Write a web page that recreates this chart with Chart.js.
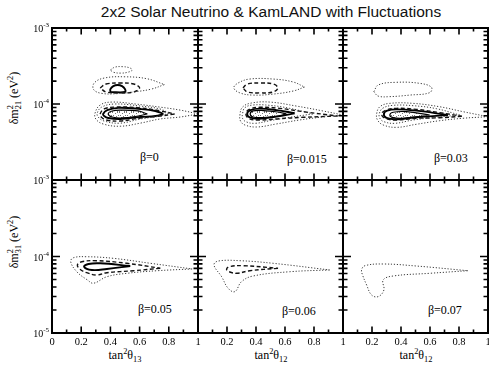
<!DOCTYPE html>
<html>
<head>
<meta charset="utf-8">
<script src="https://cdn.jsdelivr.net/npm/chart.js@4.4.0/dist/chart.umd.min.js"></script>
<style>
  body { margin: 0; background: #fff; }
  #wrap { position: relative; width: 489px; height: 373px; overflow: hidden; background: #fff; }
  #wrap canvas { position: absolute; left: 0; top: 0; }
  .txt { position: absolute; font-family: "Liberation Serif", "DejaVu Serif", serif; color: #000; white-space: nowrap; }
  .title { position: absolute; left: 0; width: 542px; top: 3px; text-align: center;
           font-family: "Liberation Sans", Arial, sans-serif; font-size: 15.5px; color: #111; }
  .beta { font-size: 12px; line-height: 12px; }
  .xt { font-size: 12px; transform: translateX(-50%); top: 347px; }
  .yt { font-size: 12px; transform: translate(-50%, -50%) rotate(-90deg); }
  .stk { display: inline-block; vertical-align: middle; font-size: 0.7em; line-height: 0.95; text-align: left; }
  sup, sub { font-size: 0.7em; }
</style>
</head>
<body>
<div id="wrap">
  <div class="title">2x2 Solar Neutrino &amp; KamLAND with Fluctuations</div>
  <div class="txt yt" style="left:15px; top:98px">&delta;m<span class="stk">2<br>21</span> (eV<sup>2</sup>)</div>
  <div class="txt yt" style="left:15px; top:242px">&delta;m<span class="stk">2<br>31</span> (eV<sup>2</sup>)</div>
  <div class="txt xt" style="left:125px">tan<sup>2</sup>&theta;<sub>13</sub></div>
  <div class="txt xt" style="left:271px">tan<sup>2</sup>&theta;<sub>12</sub></div>
  <div class="txt xt" style="left:416px">tan<sup>2</sup>&theta;<sub>12</sub></div>
  <div class="txt beta" style="left:140px; top:151px">&beta;=0</div>
  <div class="txt beta" style="left:287px; top:153px">&beta;=0.015</div>
  <div class="txt beta" style="left:434px; top:152px">&beta;=0.03</div>
  <div class="txt beta" style="left:138px; top:303px">&beta;=0.05</div>
  <div class="txt beta" style="left:282px; top:305px">&beta;=0.06</div>
  <div class="txt beta" style="left:428px; top:304px">&beta;=0.07</div>
</div>
<script>
// contour lines, [tan^2 theta, delta m^2 in eV^2]
// beta = 0
const p1Blob = [[0.40,2.8e-4],[0.43,3.05e-4],[0.48,3.1e-4],[0.53,3.0e-4],[0.55,2.8e-4],[0.52,2.62e-4],[0.47,2.55e-4],[0.42,2.62e-4],[0.40,2.8e-4]];
const p1UpOuter = [[0.77,1.8e-4],[0.68,1.57e-4],[0.57,1.45e-4],[0.45,1.37e-4],[0.34,1.38e-4],[0.285,1.55e-4],[0.29,1.9e-4],[0.36,2.2e-4],[0.50,2.28e-4],[0.65,2.15e-4],[0.77,1.8e-4]];
const p1UpDash = [[0.33,1.63e-4],[0.37,1.83e-4],[0.465,1.89e-4],[0.56,1.83e-4],[0.60,1.63e-4],[0.56,1.44e-4],[0.465,1.40e-4],[0.37,1.44e-4],[0.33,1.63e-4]];
const p1UpSolid = [[0.40,1.44e-4],[0.40,1.57e-4],[0.42,1.72e-4],[0.45,1.78e-4],[0.48,1.72e-4],[0.50,1.57e-4],[0.50,1.44e-4],[0.40,1.44e-4]];
const p1LowOuter = [[1.0,7.4e-5],[0.88,6.75e-5],[0.74,6.35e-5],[0.605,5.6e-5],[0.467,5.1e-5],[0.35,5.46e-5],[0.30,6.35e-5],[0.295,7.6e-5],[0.33,9.7e-5],[0.41,1.06e-4],[0.57,1.0e-4],[0.74,9.1e-5],[0.88,8.3e-5],[1.0,7.4e-5]];
const p1LowDot = [[0.80,7.6e-5],[0.74,6.95e-5],[0.605,6.35e-5],[0.467,5.6e-5],[0.357,5.97e-5],[0.316,6.75e-5],[0.31,7.6e-5],[0.34,9.1e-5],[0.43,1.0e-4],[0.605,9.4e-5],[0.74,8.6e-5],[0.80,7.6e-5]];
const p1LowDash = [[0.84,7.4e-5],[0.742,6.95e-5],[0.605,6.55e-5],[0.467,5.97e-5],[0.371,6.16e-5],[0.337,6.75e-5],[0.33,7.4e-5],[0.357,8.6e-5],[0.433,9.1e-5],[0.605,8.9e-5],[0.742,8.1e-5],[0.84,7.4e-5]];
const p1LowSolid = [[0.763,7.4e-5],[0.708,6.95e-5],[0.605,6.75e-5],[0.467,6.35e-5],[0.385,6.55e-5],[0.357,6.95e-5],[0.35,7.4e-5],[0.378,8.3e-5],[0.454,8.9e-5],[0.605,8.6e-5],[0.708,8.1e-5],[0.763,7.4e-5]];
const p1Core = [[0.653,7.4e-5],[0.59,6.95e-5],[0.48,6.55e-5],[0.412,6.75e-5],[0.385,7.4e-5],[0.412,8.1e-5],[0.48,8.3e-5],[0.59,8.1e-5],[0.653,7.4e-5]];
// beta = 0.015
const p2UpOuter = [[0.735,1.67e-4],[0.655,1.48e-4],[0.518,1.35e-4],[0.38,1.31e-4],[0.289,1.40e-4],[0.247,1.63e-4],[0.277,1.89e-4],[0.357,2.13e-4],[0.518,2.13e-4],[0.655,1.95e-4],[0.735,1.67e-4]];
const p2UpDash = [[0.31,1.63e-4],[0.34,1.83e-4],[0.43,1.89e-4],[0.52,1.83e-4],[0.55,1.63e-4],[0.52,1.44e-4],[0.43,1.40e-4],[0.34,1.44e-4],[0.31,1.63e-4]];
const p2LowOuter = [[1.0,7.16e-5],[0.861,6.75e-5],[0.70,6.16e-5],[0.54,5.46e-5],[0.403,4.98e-5],[0.323,5.3e-5],[0.293,5.97e-5],[0.289,7.16e-5],[0.307,9.1e-5],[0.369,1.03e-4],[0.495,1.06e-4],[0.678,9.4e-5],[0.861,8.1e-5],[1.0,7.16e-5]];
const p2LowDot = [[0.792,7.4e-5],[0.632,6.68e-5],[0.495,6.03e-5],[0.392,5.57e-5],[0.33,5.85e-5],[0.307,6.49e-5],[0.307,7.4e-5],[0.323,8.93e-5],[0.38,9.7e-5],[0.495,9.6e-5],[0.632,8.77e-5],[0.792,7.4e-5]];
const p2LowDash = [[0.964,6.95e-5],[0.724,6.68e-5],[0.564,6.41e-5],[0.426,6.16e-5],[0.353,6.41e-5],[0.33,7.4e-5],[0.353,8.5e-5],[0.426,9.05e-5],[0.564,8.77e-5],[0.724,7.93e-5],[0.964,6.95e-5]];
const p2LowSolid = [[0.667,7.55e-5],[0.541,6.81e-5],[0.426,6.41e-5],[0.362,6.6e-5],[0.339,7.4e-5],[0.362,8.3e-5],[0.426,8.68e-5],[0.541,8.3e-5],[0.667,7.55e-5]];
const p2Core = [[0.61,7.4e-5],[0.55,6.95e-5],[0.45,6.64e-5],[0.38,6.75e-5],[0.36,7.4e-5],[0.38,8.1e-5],[0.45,8.2e-5],[0.55,7.85e-5],[0.61,7.4e-5]];
// beta = 0.03
const p3UpOuter = [[0.213,1.45e-4],[0.243,1.78e-4],[0.369,1.93e-4],[0.529,1.87e-4],[0.61,1.66e-4],[0.598,1.41e-4],[0.46,1.31e-4],[0.323,1.25e-4],[0.243,1.27e-4],[0.213,1.45e-4]];
const p3LowOuter = [[1.0,6.81e-5],[0.827,6.49e-5],[0.667,6.03e-5],[0.506,5.41e-5],[0.369,4.93e-5],[0.277,5.3e-5],[0.238,6.16e-5],[0.232,7.4e-5],[0.254,9.2e-5],[0.323,1.02e-4],[0.483,1.02e-4],[0.667,9.2e-5],[0.827,7.93e-5],[1.0,6.81e-5]];
const p3LowDot = [[0.804,7.16e-5],[0.644,6.68e-5],[0.483,6.16e-5],[0.357,5.57e-5],[0.282,5.85e-5],[0.254,6.49e-5],[0.25,7.4e-5],[0.273,8.77e-5],[0.346,9.6e-5],[0.483,9.5e-5],[0.644,8.68e-5],[0.804,7.16e-5]];
const p3LowDash = [[0.82,6.9e-5],[0.667,6.6e-5],[0.506,6.49e-5],[0.369,6.16e-5],[0.289,6.49e-5],[0.266,7.4e-5],[0.296,8.3e-5],[0.369,8.77e-5],[0.506,8.5e-5],[0.667,7.69e-5],[0.82,6.9e-5]];
const p3LowSolid = [[0.724,7.16e-5],[0.506,6.68e-5],[0.369,6.3e-5],[0.30,6.55e-5],[0.282,7.4e-5],[0.305,8.17e-5],[0.369,8.5e-5],[0.506,8.17e-5],[0.724,7.16e-5]];
const p3Core = [[0.598,7.16e-5],[0.438,6.55e-5],[0.346,6.6e-5],[0.323,7.16e-5],[0.346,7.78e-5],[0.438,7.93e-5],[0.598,7.16e-5]];
// beta = 0.05
const p4Outer = [[0.96,6.87e-5],[0.72,6.52e-5],[0.513,6.03e-5],[0.376,5.44e-5],[0.284,4.47e-5],[0.243,4.93e-5],[0.17,6.32e-5],[0.128,8.55e-5],[0.147,9.64e-5],[0.238,9.93e-5],[0.421,9.46e-5],[0.674,8.15e-5],[0.96,6.87e-5]];
const p4Dash = [[0.742,7.02e-5],[0.559,6.52e-5],[0.376,6.14e-5],[0.307,5.73e-5],[0.238,6.14e-5],[0.192,6.81e-5],[0.174,7.75e-5],[0.204,8.55e-5],[0.307,8.81e-5],[0.513,8.15e-5],[0.742,7.02e-5]];
const p4Solid = [[0.536,7.51e-5],[0.376,6.87e-5],[0.273,6.67e-5],[0.22,7.36e-5],[0.25,7.98e-5],[0.33,8.15e-5],[0.536,7.51e-5]];
// beta = 0.06
const p5Outer = [[0.907,6.67e-5],[0.632,6.32e-5],[0.38,5.56e-5],[0.30,4.69e-5],[0.254,3.47e-5],[0.208,3.84e-5],[0.163,5.44e-5],[0.11,7.75e-5],[0.14,8.73e-5],[0.289,8.81e-5],[0.518,8.15e-5],[0.907,6.67e-5]];
const p5Dash = [[0.552,7.02e-5],[0.357,6.52e-5],[0.266,6.03e-5],[0.215,6.32e-5],[0.197,6.81e-5],[0.215,7.36e-5],[0.311,7.58e-5],[0.552,7.02e-5]];
// beta = 0.07
const p6Outer = [[0.861,6.52e-5],[0.598,6.03e-5],[0.346,5.56e-5],[0.277,4.93e-5],[0.282,3.65e-5],[0.243,2.99e-5],[0.197,3.14e-5],[0.163,4.24e-5],[0.135,5.73e-5],[0.128,6.67e-5],[0.151,7.58e-5],[0.277,7.98e-5],[0.506,7.51e-5],[0.861,6.52e-5]];

// tick values and labels
const xTickVals = [0.1, 0.2, 0.3, 0.4, 0.5, 0.6, 0.7, 0.8, 0.9];
const yDecades = [1e-5, 1e-4];
const yMantissas = [1, 2, 3, 4, 5, 6, 7, 8, 9];
const xLabelsFirst = [[0, '0'], [0.2, '0.2'], [0.4, '0.4'], [0.6, '0.6'], [0.8, '0.8'], [1, '1']];
const xLabelsRest = [[0.2, '0.2'], [0.4, '0.4'], [0.6, '0.6'], [0.8, '0.8'], [1, '1']];
const yLabelsTop = [[1e-3, '-3'], [1e-4, '-4']];
const yLabelsBottom = [[1e-3, '-3'], [1e-4, '-4'], [1e-5, '-5']];

const W = 489, H = 373;
const colEdges = [52, 198, 343, 488];
const rowEdges = [28, 180, 333];

// grey stipple for the innermost region (irregular dot tile)
const pc = document.createElement('canvas');
pc.width = 7; pc.height = 7;
const pg = pc.getContext('2d');
pg.fillStyle = 'rgba(95,95,95,0.85)';
[[0,0],[3,1],[5,0],[1,3],[4,4],[6,3],[2,5],[5,6],[0,6]].forEach(([a, b]) => pg.fillRect(a, b, 1, 1));
const stipple = pg.createPattern(pc, 'repeat');

const styles = {
  dot:   { borderColor: '#3a3a3a', borderWidth: 1,   borderDash: [1.2, 1.8] },
  dash:  { borderColor: '#111',    borderWidth: 1.4, borderDash: [4, 2.5] },
  solid: { borderColor: '#000',    borderWidth: 1.9, borderDash: [] },
  core:  { borderColor: '#000',    borderWidth: 1.2, borderDash: [], fill: 'shape', backgroundColor: stipple }
};

const frameTicks = {
  id: 'frameTicks',
  afterDatasetsDraw(chart, args, opts) {
    const { ctx, chartArea: a, scales: { x, y } } = chart;
    ctx.save();
    ctx.strokeStyle = '#000';
    ctx.lineWidth = 1.6;
    ctx.beginPath();
    xTickVals.forEach((v, i) => {
      const px = x.getPixelForValue(v);
      const len = (i % 2 === 1) ? 6.5 : 3.5;
      ctx.moveTo(px, a.bottom); ctx.lineTo(px, a.bottom - len);
      ctx.moveTo(px, a.top); ctx.lineTo(px, a.top + len);
    });
    yDecades.forEach(d => {
      yMantissas.forEach(m => {
        if (d === 1e-5 && m === 1) return;
        const py = y.getPixelForValue(d * m);
        const len = m === 1 ? 8 : 4.5;
        ctx.moveTo(a.left, py); ctx.lineTo(a.left + len, py);
        ctx.moveTo(a.right, py); ctx.lineTo(a.right - len, py);
      });
    });
    ctx.stroke();
    ctx.lineWidth = 2;
    ctx.strokeRect(a.left, a.top, a.right - a.left, a.bottom - a.top);

    ctx.fillStyle = '#000';
    if (opts.yLabels) {
      opts.yLabels.forEach(([v, e]) => {
        const py = y.getPixelForValue(v);
        ctx.textAlign = 'right';
        ctx.textBaseline = 'alphabetic';
        ctx.font = '7px "Liberation Serif"';
        const ew = ctx.measureText(e).width;
        ctx.fillText(e, a.left - 3, py - 1);
        ctx.font = '10px "Liberation Serif"';
        ctx.fillText('10', a.left - 3 - ew, py + 4);
      });
    }
    if (opts.xLabels) {
      ctx.textAlign = 'center';
      ctx.textBaseline = 'top';
      ctx.font = '10.5px "Liberation Serif"';
      opts.xLabels.forEach(([v, t]) => {
        ctx.fillText(t, x.getPixelForValue(v), a.bottom + 4);
      });
    }
    ctx.restore();
  }
};

function makePanel(col, row, contours, labels) {
  const cv = document.createElement('canvas');
  cv.width = W; cv.height = H;
  document.getElementById('wrap').appendChild(cv);
  const datasets = contours.map(([pts, kind]) => Object.assign({
    data: pts.map(p => ({ x: p[0], y: p[1] })),
    showLine: true,
    tension: 0.4,
    pointRadius: 0,
    fill: false
  }, styles[kind]));
  return new Chart(cv, {
    type: 'scatter',
    data: { datasets },
    options: {
      responsive: false,
      animation: false,
      devicePixelRatio: 1,
      layout: { padding: {
        left: colEdges[col], right: W - colEdges[col + 1],
        top: rowEdges[row], bottom: H - rowEdges[row + 1]
      } },
      scales: {
        x: { type: 'linear', min: 0, max: 1, display: false },
        y: { type: 'logarithmic', min: 1e-5, max: 1e-3, display: false }
      },
      plugins: {
        legend: { display: false },
        tooltip: { enabled: false },
        frameTicks: labels
      }
    },
    plugins: [frameTicks]
  });
}

makePanel(0, 0, [[p1Blob, 'dot'], [p1UpOuter, 'dot'], [p1LowOuter, 'dot'], [p1LowDot, 'dot'],
  [p1UpDash, 'dash'], [p1LowDash, 'dash'], [p1UpSolid, 'solid'], [p1LowSolid, 'solid'], [p1Core, 'core']],
  { yLabels: yLabelsTop });
makePanel(1, 0, [[p2UpOuter, 'dot'], [p2LowOuter, 'dot'], [p2LowDot, 'dot'],
  [p2UpDash, 'dash'], [p2LowDash, 'dash'], [p2LowSolid, 'solid'], [p2Core, 'core']], {});
makePanel(2, 0, [[p3UpOuter, 'dot'], [p3LowOuter, 'dot'], [p3LowDot, 'dot'],
  [p3LowDash, 'dash'], [p3LowSolid, 'solid'], [p3Core, 'core']], {});
makePanel(0, 1, [[p4Outer, 'dot'], [p4Dash, 'dash'], [p4Solid, 'solid']],
  { yLabels: yLabelsBottom, xLabels: xLabelsFirst });
makePanel(1, 1, [[p5Outer, 'dot'], [p5Dash, 'dash']], { xLabels: xLabelsRest });
makePanel(2, 1, [[p6Outer, 'dot']], { xLabels: xLabelsRest });
</script>
</body>
</html>
